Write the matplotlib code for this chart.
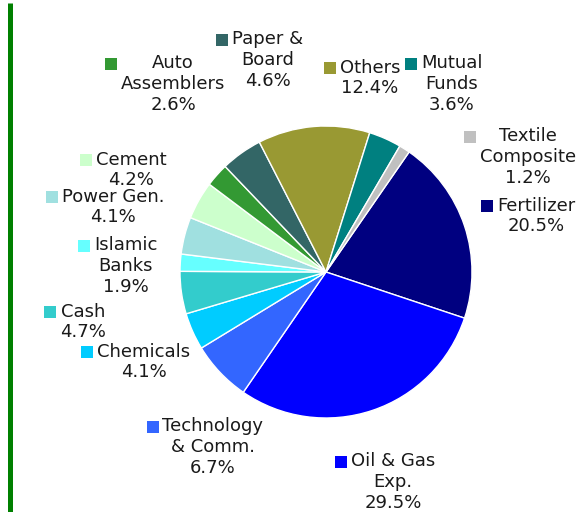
import numpy as np
import matplotlib.pyplot as plt

W, H = 577, 512

sectors = ['Fertilizer', 'Oil & Gas\nExp.', 'Technology\n& Comm.', 'Chemicals', 'Cash',
           'Islamic\nBanks', 'Power Gen.', 'Cement', 'Auto\nAssemblers', 'Paper &\nBoard',
           'Others', 'Mutual\nFunds', 'Textile\nComposite']
shares = [20.5, 29.5, 6.7, 4.1, 4.7, 1.9, 4.1, 4.2, 2.6, 4.6, 12.4, 3.6, 1.2]
colors = ['#000080', '#0000FF', '#3366FF', '#00CCFF', '#33CCCC', '#66FFFF', '#A0E0E0',
          '#CCFFCC', '#339933', '#336666', '#999933', '#008080', '#C0C0C0']

# label block centres in pixels (from top-left)
label_xy = [(536, 216), (393, 482), (213, 447), (144, 362), (83, 322), (126, 266),
            (113, 207), (131, 170), (173, 84), (268, 60), (370, 78), (452, 84), (528, 157)]

fig = plt.figure(figsize=(W / 100, H / 100), dpi=100)
ax = fig.add_axes([0, 0, 1, 1])

ax.pie(shares, colors=colors, center=(326, H - 272), radius=146, startangle=55.3,
       counterclock=False, wedgeprops=dict(edgecolor='white', linewidth=1))
ax.set_xlim(0, W)
ax.set_ylim(0, H)
ax.set_aspect('auto')
ax.axis('off')

# green bar on the left
ax.plot([10, 10], [0, H - 3], color='#008000', lw=3.6, solid_capstyle='butt')

renderer = fig.canvas.get_renderer()
for name, val, col, (x, y) in zip(sectors, shares, colors, label_xy):
    txt = '%s\n%.1f%%' % (name, val)
    t = ax.text(x, H - y, txt, ha='center', va='center', multialignment='center',
                fontsize=13, color='#1a1a1a', linespacing=1.2)
    bb = t.get_window_extent(renderer)
    nlines = txt.count('\n') + 1
    lh = bb.height / nlines
    ax.plot(bb.x0 - 10, bb.y1 - lh / 2, marker='s', markersize=8.5, color=col,
            markeredgewidth=0)

fig.savefig('out.png', dpi=100)
